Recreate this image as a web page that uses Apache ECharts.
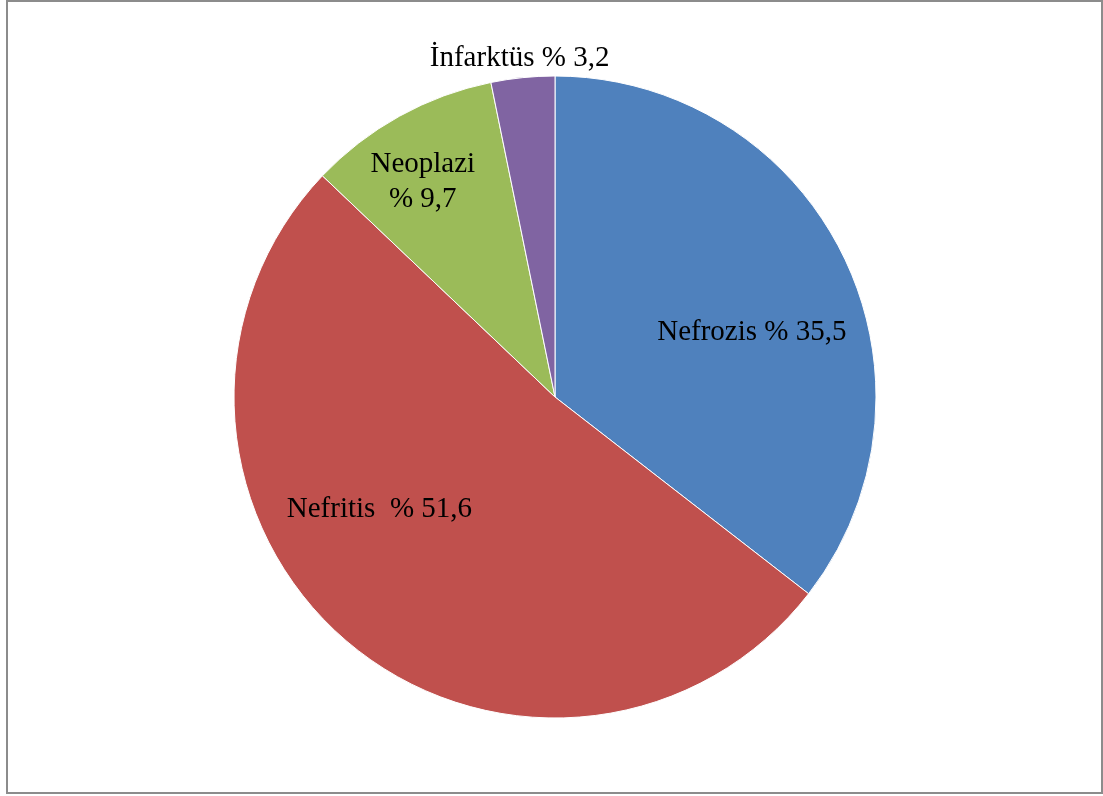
<!DOCTYPE html>
<html>
<head>
<meta charset="utf-8">
<script src="https://cdn.jsdelivr.net/npm/echarts@6/dist/echarts.min.js"></script>
<style>
  html, body { margin: 0; padding: 0; background: #ffffff; }
  #chart { width: 1103px; height: 796px; }
</style>
</head>
<body>
<div id="chart"></div>
<script>
// slice data, clockwise from 12 o'clock
var names = ['Nefrozis', 'Nefritis', 'Neoplazi', 'İnfarktüs']
var values = [35.5, 51.6, 9.7, 3.2]
var labels = ['Nefrozis % 35,5', 'Nefritis  % 51,6', 'Neoplazi\n% 9,7', 'İnfarktüs % 3,2']
var colors = ['#4F81BD', '#C0504D', '#9BBB59', '#8064A2']
// nudges from the default inside spot, Excel puts labels its own way
var labelOffsets = [[50, 7], [-69, -12], [-53, -72], [-19, -176]]

var myChart = echarts.init(document.getElementById('chart'))

var pieData = []
for (let i = 0; i < names.length; i++) {
  pieData.push({
    name: names[i],
    value: values[i],
    itemStyle: { color: colors[i] },
    label: {
      formatter: labels[i],
      offset: labelOffsets[i]
    }
  })
}

var option = {
  animation: false,
  backgroundColor: '#ffffff',
  graphic: [{
    type: 'rect',
    shape: { x: 7, y: 1, width: 1095, height: 792 },
    style: { fill: 'none', stroke: '#8c8c8c', lineWidth: 2 },
    silent: true
  }],
  series: [{
    type: 'pie',
    center: [555, 397],
    radius: 321,
    startAngle: 90,
    clockwise: true,
    avoidLabelOverlap: false,
    itemStyle: {
      borderColor: '#ffffff',
      borderWidth: 1
    },
    label: {
      show: true,
      position: 'inside',
      color: '#000000',
      fontFamily: 'Liberation Serif',
      fontSize: 29,
      lineHeight: 35,
      align: 'center'
    },
    labelLine: { show: false },
    emphasis: { disabled: true },
    data: pieData
  }]
}

myChart.setOption(option)
</script>
</body>
</html>
